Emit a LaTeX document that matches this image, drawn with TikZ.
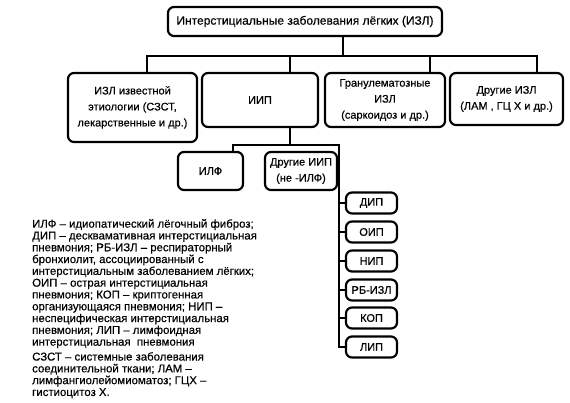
\documentclass[tikz,border=0pt]{standalone}
\usepackage{fontspec}
\setmainfont[FakeBold=0.4]{Liberation Sans}
\begin{document}
\begin{tikzpicture}[x=1pt,y=-1pt,
  box/.style={draw, line width=2.2pt, rounded corners=6pt, align=center, inner sep=0pt, font=\fontsize{11}{16}\selectfont},
  sbox/.style={box, minimum width=51pt, minimum height=21pt},
  conn/.style={line width=2.2pt},
  legend/.style={anchor=north west, align=left, inner sep=0pt, font=\fontsize{11.4}{11.8}\selectfont}]
\useasboundingbox (0,0) rectangle (570,403);
\node[box, minimum width=274pt, minimum height=29pt, font=\fontsize{12}{16}\selectfont] (top) at (305,21.5) {Интерстициальные заболевания лёгких (ИЗЛ)};
\node[box, minimum width=129pt, minimum height=69pt] (b1) at (132.5,107.5) {ИЗЛ известной\\этиологии (СЗСТ,\\лекарственные и др.)};
\node[box, minimum width=116pt, minimum height=54pt] (b2) at (260,100) {ИИП};
\node[box, minimum width=120pt, minimum height=54pt] (b3) at (385,100) {Гранулематозные\\ИЗЛ\\(саркоидоз и др.)};
\node[box, minimum width=113pt, minimum height=52pt] (b4) at (506.5,99) {Другие ИЗЛ\\(ЛАМ , ГЦ Х и др.)};
\node[box, minimum width=65pt, minimum height=38pt] (ilf) at (210.5,171) {ИЛФ};
\node[box, minimum width=72pt, minimum height=38pt] (oth) at (301,171) {Другие ИИП\\(не -ИЛФ)};
\node[sbox] (s1) at (371.5,203) {ДИП};
\node[sbox] (s2) at (371.5,232) {ОИП};
\node[sbox] (s3) at (371.5,261) {НИП};
\node[sbox] (s4) at (371.5,290) {РБ-ИЗЛ};
\node[sbox] (s5) at (371.5,318) {КОП};
\node[sbox] (s6) at (371.5,347) {ЛИП};
\coordinate (t) at (343,56);
\coordinate (d1) at (147,56);
\coordinate (d2) at (290,56);
\coordinate (d3) at (430,56);
\coordinate (d4) at (537,56);
\draw[conn] (top.south -| t) -- (t);
\draw[conn] (d1 |- b1.north) -- (d1) -- (d4) -- (d4 |- b4.north);
\draw[conn] (d2) -- (d2 |- b2.north);
\draw[conn] (d3) -- (d3 |- b3.north);
\coordinate (e) at (290,145);
\coordinate (e1) at (233,145);
\coordinate (sp) at (339,145);
\draw[conn] (b2.south -| e) -- (e);
\draw[conn] (e1 |- ilf.north) -- (e1) -- (sp) -- (sp |- s6.west) -- (s6.west);
\foreach \s in {s1,s2,s3,s4,s5} \draw[conn] (sp |- \s.west) -- (\s.west);
\node[legend] (leg1) at (32,219) {ИЛФ – идиопатический лёгочный фиброз;\\ДИП – десквамативная интерстициальная\\пневмония; РБ-ИЗЛ – респираторный\\бронхиолит, ассоциированный с\\интерстициальным заболеванием лёгких;\\ОИП – острая интерстициальная\\пневмония; КОП – криптогенная\\организующаяся пневмония; НИП –\\неспецифическая интерстициальная\\пневмония; ЛИП – лимфоидная\\интерстициальная\ \ пневмония};
\node[legend] (leg2) at (32,352) {СЗСТ – системные заболевания\\соединительной ткани; ЛАМ –\\лимфангиолейомиоматоз; ГЦХ –\\гистиоцитоз Х.};
\end{tikzpicture}
\end{document}
